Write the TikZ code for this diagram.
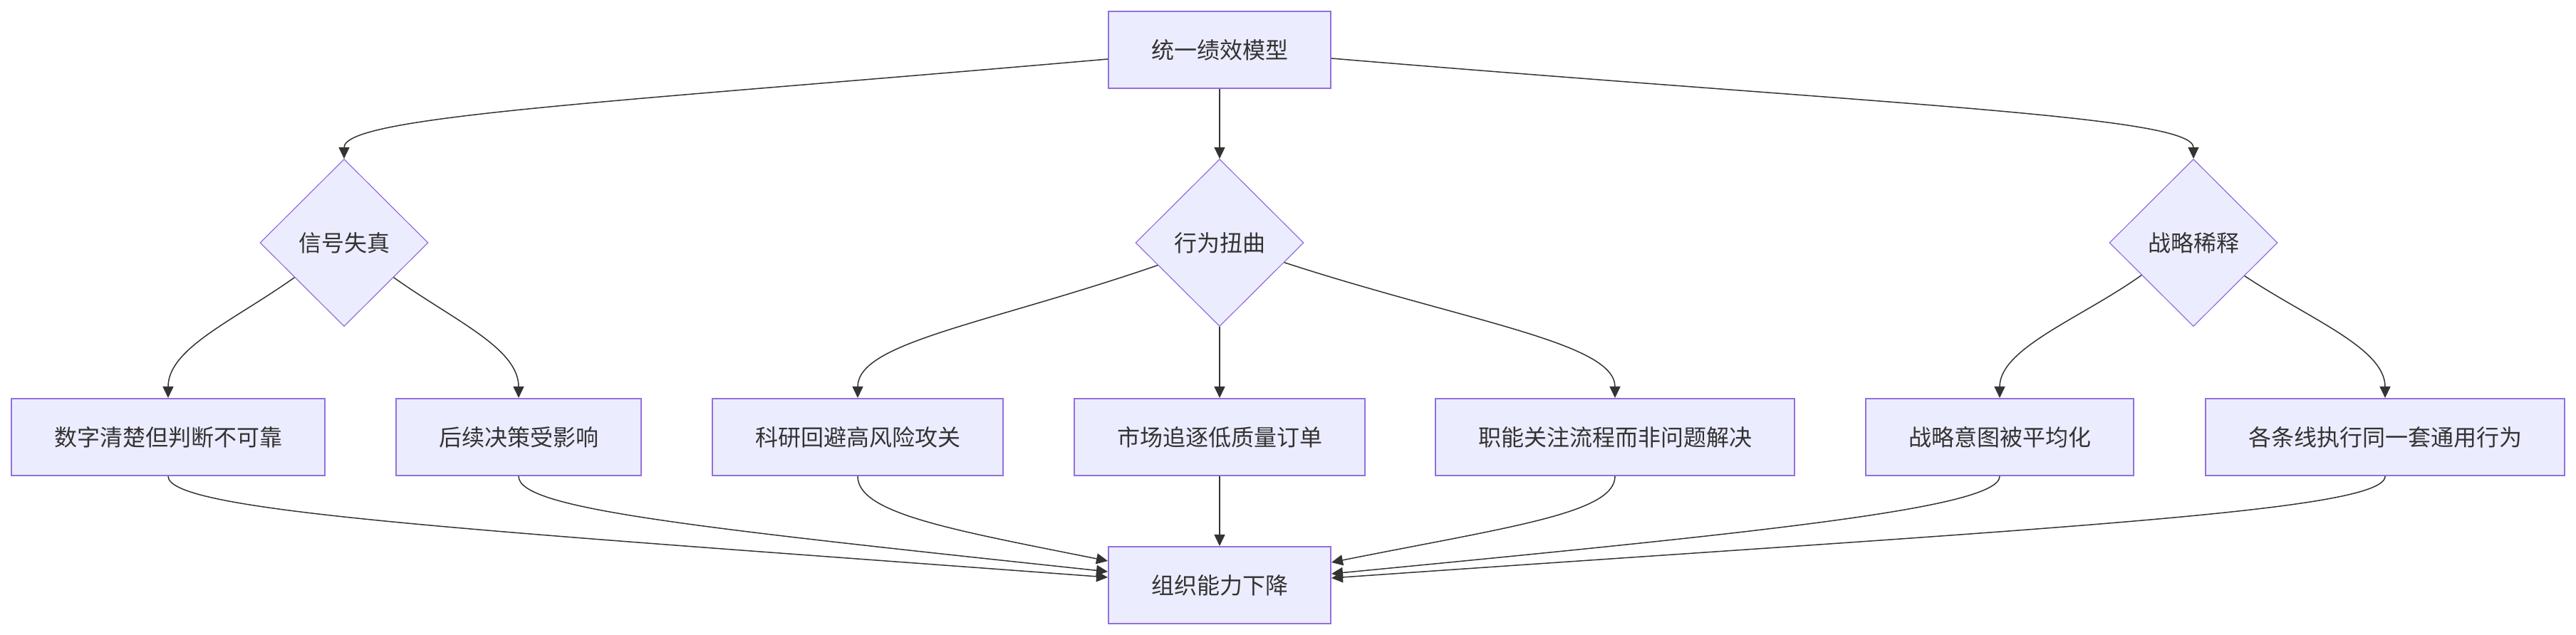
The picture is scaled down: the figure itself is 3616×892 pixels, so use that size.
\documentclass[tikz,border=0pt]{standalone}
\usepackage{fontspec}
\setmainfont{Noto Sans CJK SC}
\usetikzlibrary{arrows.meta,shapes.geometric}
\definecolor{lav}{HTML}{ECECFF}
\definecolor{purp}{HTML}{9370DB}
\definecolor{ink}{HTML}{333333}
\tikzset{>={Triangle[length=8pt,width=7.5pt]},box/.style={draw=purp,fill=lav,line width=1pt,minimum height=54pt,inner xsep=30pt,text=ink,font=\fontsize{16}{16}\selectfont},choice/.style={diamond,aspect=1,draw=purp,fill=lav,line width=.6pt,minimum width=118pt,minimum height=117.5pt,inner sep=0pt,text=ink,font=\fontsize{16}{16}\selectfont},arr/.style={->,ink,line width=.75pt}}

\begin{document}
\begin{tikzpicture}[x=.5pt,y=-.5pt]
\useasboundingbox (0,0) rectangle (3616,892);
\node[box] (top) at (1712,70) {统一绩效模型};
\node[choice] (d1) at (483,341) {信号失真};
\node[choice] (d2) at (1712,341) {行为扭曲};
\node[choice] (d3) at (3079,341) {战略稀释};
\node[box] (b1) at (236,614) {数字清楚但判断不可靠};
\node[box] (b2) at (728,614) {后续决策受影响};
\node[box] (b3) at (1204,614) {科研回避高风险攻关};
\node[box] (b4) at (1712,614) {市场追逐低质量订单};
\node[box] (b5) at (2267,614) {职能关注流程而非问题解决};
\node[box] (b6) at (2807,614) {战略意图被平均化};
\node[box] (b7) at (3348,614) {各条线执行同一套通用行为};
\node[box] (bot) at (1712,822) {组织能力下降};
\draw[arr] ([yshift=-6.5pt]top.west) .. controls +(-697,61) and +(0,-60) .. (d1.north);
\draw[arr] (top.south) -- (d2.north);
\draw[arr] ([yshift=-6pt]top.east) .. controls +(790,66) and +(0,-60) .. (d3.north);
\draw[arr] (d1.215) .. controls +(-84,60) and +(0,-70) .. (b1.north);
\draw[arr] (d1.325) .. controls +(84,60) and +(0,-70) .. (b2.north);
\draw[arr] (d2.200) .. controls +(-241,83) and +(0,-78) .. (b3.north);
\draw[arr] (d2.south) -- (b4.north);
\draw[arr] (d2.343) .. controls +(255,83) and +(0,-78) .. (b5.north);
\draw[arr] (d3.212) .. controls +(-84,60) and +(0,-70) .. (b6.north);
\draw[arr] (d3.327) .. controls +(90,60) and +(0,-70) .. (b7.north);
\draw[arr] (b1.south) .. controls +(0,50) and +(-900,-67) .. ([yshift=5.5pt]bot.west);
\draw[arr] (b2.south) .. controls +(0,45) and +(-600,-64) .. ([yshift=9.5pt]bot.west);
\draw[arr] (b3.south) .. controls +(0,52) and +(-220,-44) .. ([yshift=17pt]bot.west);
\draw[arr] (b4.south) -- (bot.north);
\draw[arr] (b5.south) .. controls +(0,52) and +(250,-50) .. ([yshift=16pt]bot.east);
\draw[arr] (b6.south) .. controls +(0,45) and +(600,-58) .. ([yshift=8pt]bot.east);
\draw[arr] (b7.south) .. controls +(0,50) and +(1000,-70) .. ([yshift=5pt]bot.east);
\end{tikzpicture}
\end{document}
